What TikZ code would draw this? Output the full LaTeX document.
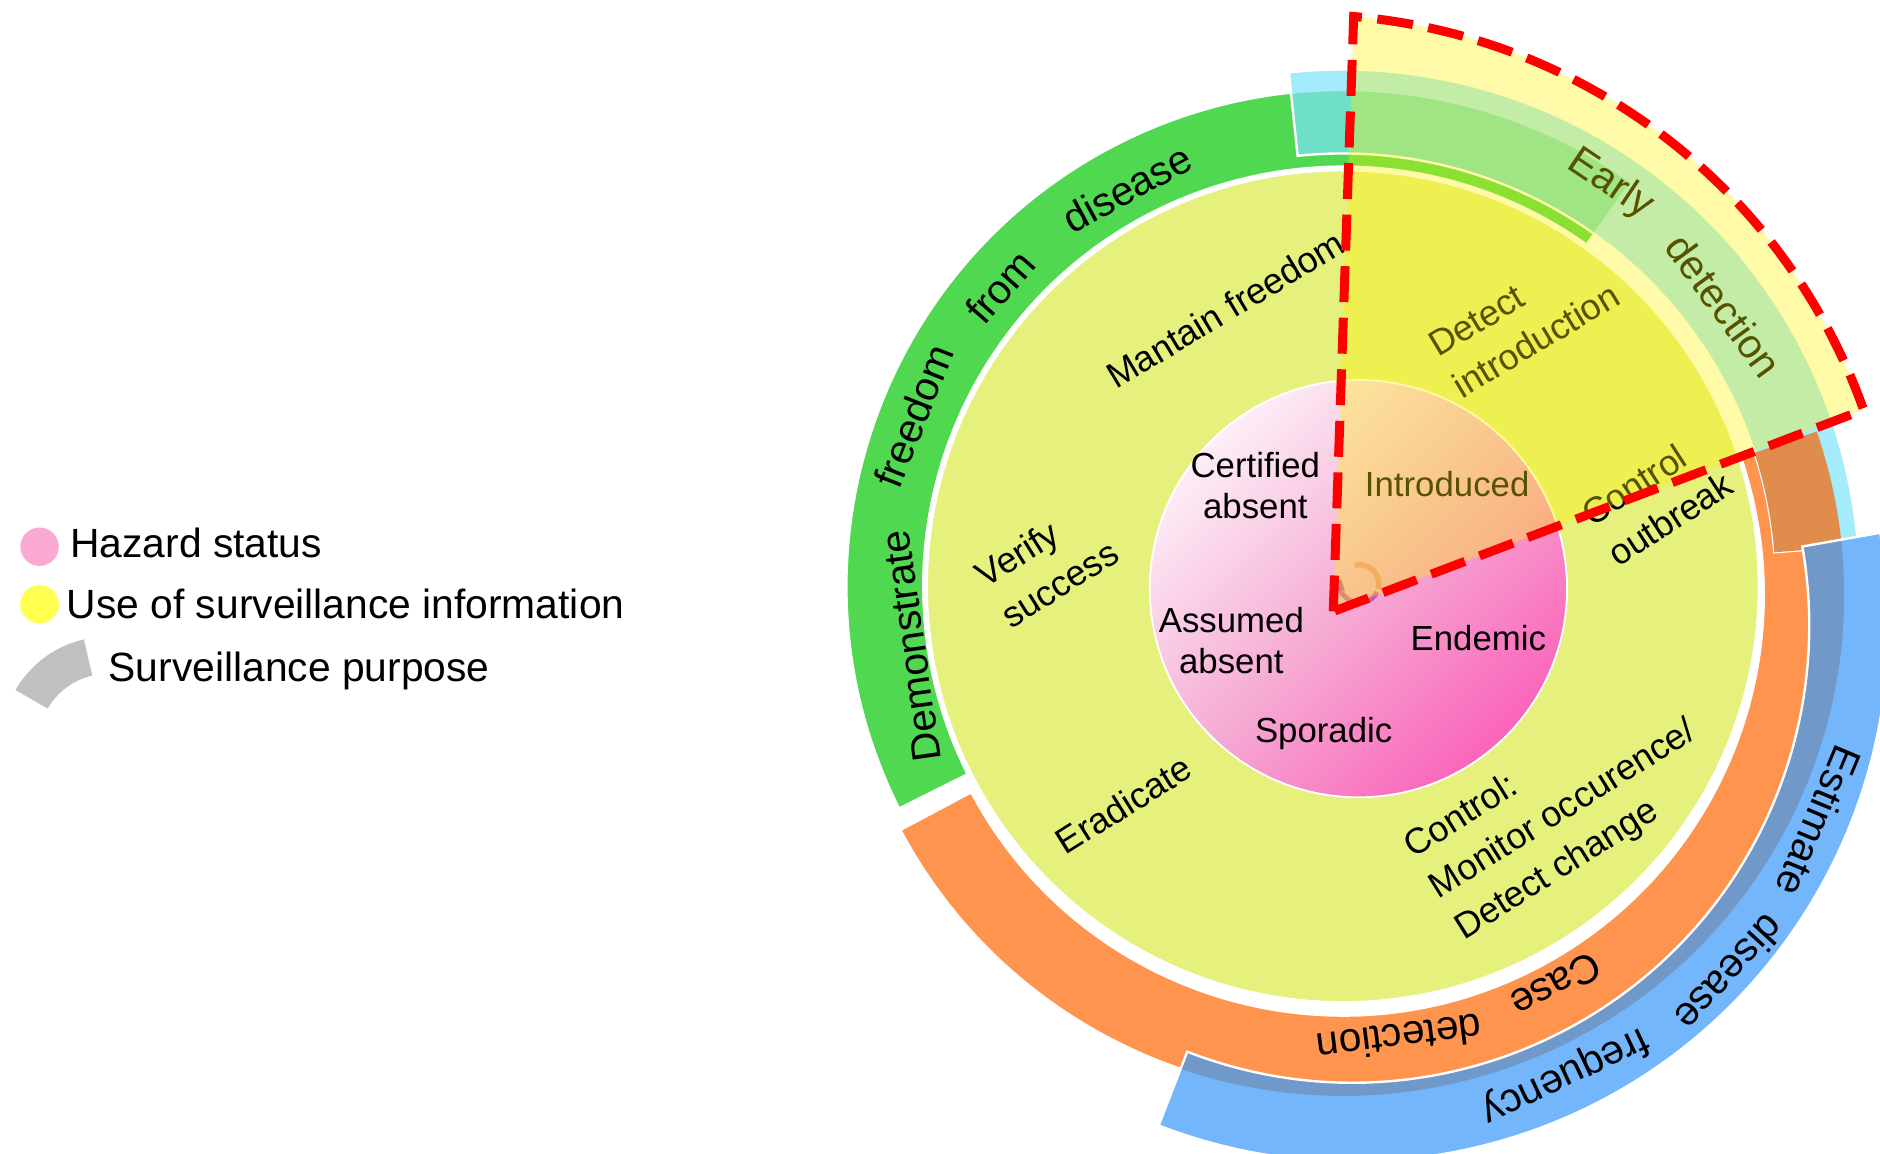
\documentclass[tikz,border=0pt]{standalone}
\usepackage{fontspec}
\setmainfont{Liberation Sans}
\usetikzlibrary{calc, arrows.meta, positioning}

\definecolor{bandgreen}{RGB}{80,216,80}
\definecolor{bandorange}{RGB}{255,148,78}
\definecolor{bandcyan}{RGB}{126,227,251}
\definecolor{bandblue}{RGB}{116,182,252}
\definecolor{mixorange}{RGB}{224,140,76}
\definecolor{mixblue}{RGB}{112,152,200}
\definecolor{useyellow}{RGB}{230,240,124}
\definecolor{hazlight}{RGB}{253,238,247}
\definecolor{hazmid}{RGB}{246,172,212}
\definecolor{hazdark}{RGB}{250,100,186}
\definecolor{legpink}{RGB}{250,170,210}
\definecolor{legyellow}{RGB}{255,255,80}
\definecolor{leggray}{RGB}{192,192,192}
\definecolor{cyclesalmon}{RGB}{240,130,120}
\definecolor{cyclepurple}{RGB}{190,70,170}

\newcommand{\ringpath}[5]{($(#1)+(#2:#4)$) arc[start angle=#2, end angle=#3, radius=#4] -- ($(#1)+(#3:#5)$) arc[start angle=#3, end angle=#2, radius=#5] -- cycle}

\begin{document}
\begin{tikzpicture}[x=0.01cm, y=0.01cm]
\tikzstyle{band}=[draw=white, line width=0.02cm];
\tikzstyle{bandtext}=[font=\fontsize{0.34cm}{0.40cm}\selectfont, inner sep=0pt];
\tikzstyle{ringtext}=[font=\fontsize{0.30cm}{0.40cm}\selectfont, align=left, inner sep=0pt];
\tikzstyle{coretext}=[font=\fontsize{0.29cm}{0.34cm}\selectfont, align=center, inner sep=0pt];
\tikzstyle{legtext}=[font=\fontsize{0.34cm}{0.40cm}\selectfont, anchor=base west, inner sep=0pt];
\tikzstyle{legdot}=[circle, minimum size=0.32cm, inner sep=0pt];

\useasboundingbox (0,0) rectangle (1568,-962);

\coordinate (O) at (1120,-489);
\coordinate (Oo) at (1120,-496);
\coordinate (Ob) at (1128,-522);
\coordinate (Oi) at (1133,-491);
\coordinate (Oh) at (1087,-508);
\coordinate (V) at (1112,-510);
\coordinate (IC) at (90,-620);
\coordinate (CY) at (1134,-487);

\fill[bandgreen, band] \ringpath{O}{54.5}{206.6}{350}{414};
\fill[bandorange, band] \ringpath{Oo}{208}{379}{351}{418};
\path[band, fill=bandcyan, fill opacity=0.7] \ringpath{O}{4.5}{96}{361}{431};
\begin{scope}
  \clip \ringpath{Oo}{208}{379}{351}{418};
  \fill[mixorange] \ringpath{O}{4.5}{96}{361}{431};
\end{scope}
\fill[bandblue] \ringpath{Ob}{248.8}{370}{381}{447};
\begin{scope}
  \clip \ringpath{Oo}{208}{379}{351}{418};
  \fill[mixblue] \ringpath{Ob}{248.8}{370}{381}{447};
\end{scope}
\draw[band] \ringpath{Ob}{248.8}{370}{381}{447};

\draw[white, line width=0.04cm, fill=useyellow] (O) circle[radius=348];
\shade[top color=hazlight, bottom color=hazdark, middle color=hazmid, shading angle=45] (Oi) circle[radius=174];
\draw[white, line width=0.015cm] (Oi) circle[radius=174];

\node[coretext] (certified) at (1047,-405) {Certified\\absent};
\node[coretext] (introduced) at (1207,-404) {Introduced};
\node[coretext] (assumed) at (1027,-534) {Assumed\\absent};
\node[coretext] (endemic) at (1233,-532) {Endemic};
\node[coretext] (sporadic) at (1104,-612) {Sporadic};

\node[ringtext, rotate=31] (maintain) at (1022,-258) {Mantain freedom};
\node[ringtext, rotate=32] (verify) at (873,-470) {Verify\\success};
\node[ringtext, rotate=32] (eradicate) at (937,-671) {Eradicate};
\node[ringtext, rotate=32] (monitor) at (1304,-676) {Control:\\Monitor occurence/\\Detect change};
\node[ringtext, rotate=33] (outbreak) at (1382,-416) {Control\\outbreak};
\node[ringtext, rotate=31] (introduction) at (1271,-267) {Detect\\introduction};

\node[bandtext, rotate=98] (demonstrate) at (760,-539) {Demonstrate};
\node[bandtext, rotate=68.4] (freedom) at (762,-347) {freedom};
\node[bandtext, rotate=48.8] (from) at (834,-239) {from};
\node[bandtext, rotate=28.5] (disease) at (940,-157) {disease};
\node[bandtext, rotate=-33.8] (early) at (1343,-154) {Early};
\node[bandtext, rotate=-53.9] (earlydetect) at (1438,-255) {detection};
\node[bandtext, rotate=-151.7] (case) at (1298,-822) {Case};
\node[bandtext, rotate=-172.8] (casedetect) at (1167,-866) {detection};
\node[bandtext, rotate=-112.7] (estimate) at (1517,-685) {Estimate};
\node[bandtext, rotate=-132.6] (diseasefreq) at (1443,-812) {disease};
\node[bandtext, rotate=-154.7] (frequency) at (1305,-897) {frequency};

\draw[cyclesalmon, line width=0.045cm, opacity=0.8] ($(CY)+(105:16)$) arc[start angle=105, end angle=-15, radius=16];
\draw[cyclepurple, line width=0.04cm, opacity=0.8, -{Triangle[length=0.09cm, width=0.11cm]}] ($(CY)+(-25:16)$) arc[start angle=-25, end angle=-195, radius=16];

\fill[yellow, fill opacity=0.34] (V) -- ($(Oh)+(85.14:496)$) arc[start angle=85.14, end angle=19.57, radius=496] -- cycle;
\draw[red, line width=0.075cm, dash pattern=on 0.30cm off 0.13cm, line join=miter] (V) -- ($(Oh)+(85.14:496)$) arc[start angle=85.14, end angle=19.57, radius=496] -- cycle;

\node[legdot, fill=legpink] (hazdot) at (33,-456) {};
\node[legtext] (hazlabel) at (58,-465) {Hazard status};
\node[legdot, fill=legyellow] (usedot) at (33,-504) {};
\node[legtext] (uselabel) at (55,-516) {Use of surveillance information};
\fill[leggray] \ringpath{IC}{103}{150}{58}{89};
\node[legtext] (purposelabel) at (90,-568) {Surveillance purpose};

\end{tikzpicture}
\end{document}
